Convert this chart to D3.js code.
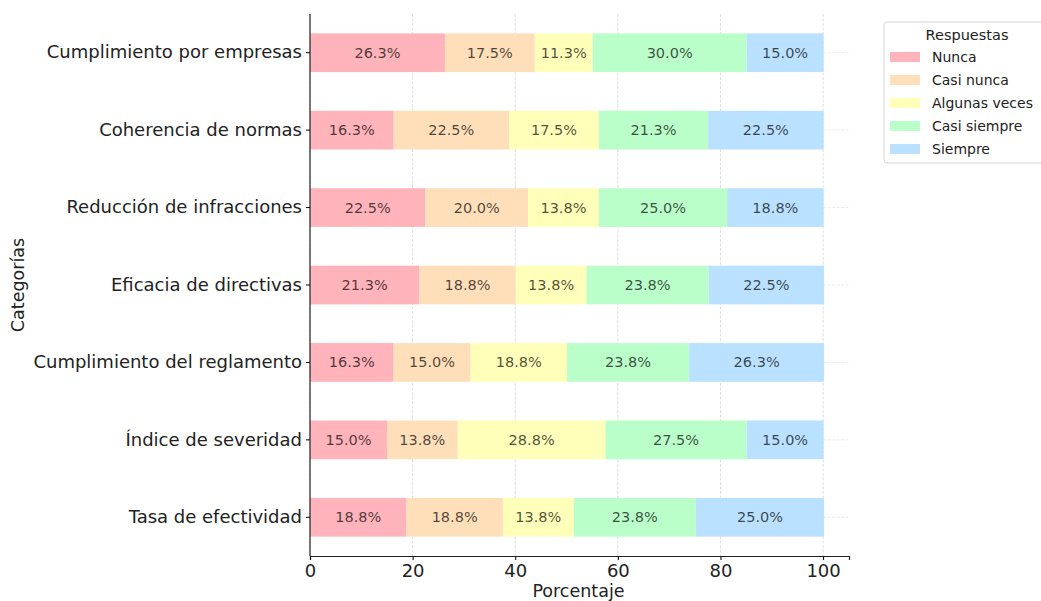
<!DOCTYPE html>
<html><head><meta charset="utf-8">
<script src="https://cdn.jsdelivr.net/npm/d3@7"></script>
<style>body{margin:0;background:#fff;} svg{display:block;font-family:"DejaVu Sans",sans-serif;}</style>
</head><body>
<svg id="c" width="1041" height="601"></svg>
<script>
const categories = ["Cumplimiento por empresas","Coherencia de normas","Reducción de infracciones","Eficacia de directivas","Cumplimiento del reglamento","Índice de severidad","Tasa de efectividad"];
const seriesNames = ["Nunca","Casi nunca","Algunas veces","Casi siempre","Siempre"];
const nunca = [26.3,16.3,22.5,21.3,16.3,15.0,18.8];
const casiNunca = [17.5,22.5,20.0,18.8,15.0,13.8,18.8];
const algunasVeces = [11.3,17.5,13.8,13.8,18.8,28.8,13.8];
const casiSiempre = [30.0,21.3,25.0,23.8,23.8,27.5,23.8];
const siempre = [15.0,22.5,18.8,22.5,26.3,15.0,25.0];
const colors = ["#FFB3BA","#FFDFBA","#FFFFBA","#BAFFC9","#BAE1FF"];
const xTicks = [0,20,40,60,80,100];

const seriesValues = [nunca,casiNunca,algunasVeces,casiSiempre,siempre];
const table = categories.map((c,i)=>{const o={cat:c}; seriesNames.forEach((s,j)=>o[s]=seriesValues[j][i]); return o;});
const stacked = d3.stack().keys(seriesNames)(table);

const svg = d3.select("#c");
const L=310, R=849, T=14, B=556;
const x = d3.scaleLinear().domain([0,105.05]).range([L,R]);
const y = d3.scaleBand().domain(categories).range([T,B]).paddingInner(0.5).paddingOuter(0.25);

// grid
const g = svg.append("g");
g.selectAll("line.vg").data(xTicks).join("line")
  .attr("x1",d=>x(d)).attr("x2",d=>x(d)).attr("y1",T).attr("y2",B)
  .attr("stroke","#d6d6d6").attr("stroke-width",0.8).attr("stroke-dasharray","3,1.5");
g.selectAll("line.hg").data(categories).join("line")
  .attr("x1",L).attr("x2",R).attr("y1",d=>y(d)+y.bandwidth()/2).attr("y2",d=>y(d)+y.bandwidth()/2)
  .attr("stroke","#e4e4e4").attr("stroke-width",0.8).attr("stroke-dasharray","3,1.5");

// bars
const layers = svg.append("g").selectAll("g").data(stacked).join("g").attr("fill",(d,i)=>colors[i]);
layers.selectAll("rect").data(d=>d).join("rect")
  .attr("x",d=>x(d[0])).attr("width",d=>x(d[1])-x(d[0]))
  .attr("y",d=>y(d.data.cat)).attr("height",y.bandwidth());
layers.selectAll("text").data(d=>d.map(v=>({v,key:d.key}))).join("text")
  .attr("x",d=>(x(d.v[0])+x(d.v[1]))/2).attr("y",d=>y(d.v.data.cat)+y.bandwidth()/2)
  .attr("text-anchor","middle").attr("dominant-baseline","central")
  .attr("font-size",14.5).attr("fill","#000").attr("fill-opacity",0.7)
  .text(d=>d.v.data[d.key].toFixed(1)+"%");

// axes
const xa = svg.append("g").attr("transform",`translate(0,${B})`)
  .call(d3.axisBottom(x).tickValues(xTicks).tickSize(4).tickPadding(4));
xa.select(".domain").attr("stroke","#222").attr("stroke-width",1.2);
xa.selectAll("text").attr("font-size",18).attr("fill","#222").attr("font-family","DejaVu Sans");
const ya = svg.append("g").attr("transform",`translate(${L},0)`)
  .call(d3.axisLeft(y).tickSize(4).tickPadding(4));
ya.select(".domain").attr("stroke","#222").attr("stroke-width",1.2).attr("d",`M0,${T}V${B}`);
ya.selectAll("text").attr("font-size",18).attr("fill","#222").attr("font-family","DejaVu Sans");

svg.append("text").attr("x",(L+R)/2-1).attr("y",597).attr("text-anchor","middle")
  .attr("font-size",17.5).attr("fill","#222").text("Porcentaje");
svg.append("text").attr("transform",`translate(24,${(T+B)/2}) rotate(-90)`).attr("text-anchor","middle")
  .attr("font-size",17.5).attr("fill","#222").text("Categorías");

// legend
const lg = svg.append("g");
lg.append("rect").attr("x",884).attr("y",22).attr("width",170).attr("height",141).attr("rx",3)
  .attr("fill","#fff").attr("stroke","#d8d8d8");
lg.append("text").attr("x",967).attr("y",40).attr("text-anchor","middle").attr("font-size",14.5).attr("fill","#222").text("Respuestas");
seriesNames.forEach((s,i)=>{
  const yy = 57 + i*23;
  lg.append("rect").attr("x",890).attr("y",yy-5).attr("width",30).attr("height",10).attr("fill",colors[i]);
  lg.append("text").attr("x",932).attr("y",yy).attr("dominant-baseline","central").attr("font-size",14).attr("fill","#222").text(s);
});
</script>
</body></html>
